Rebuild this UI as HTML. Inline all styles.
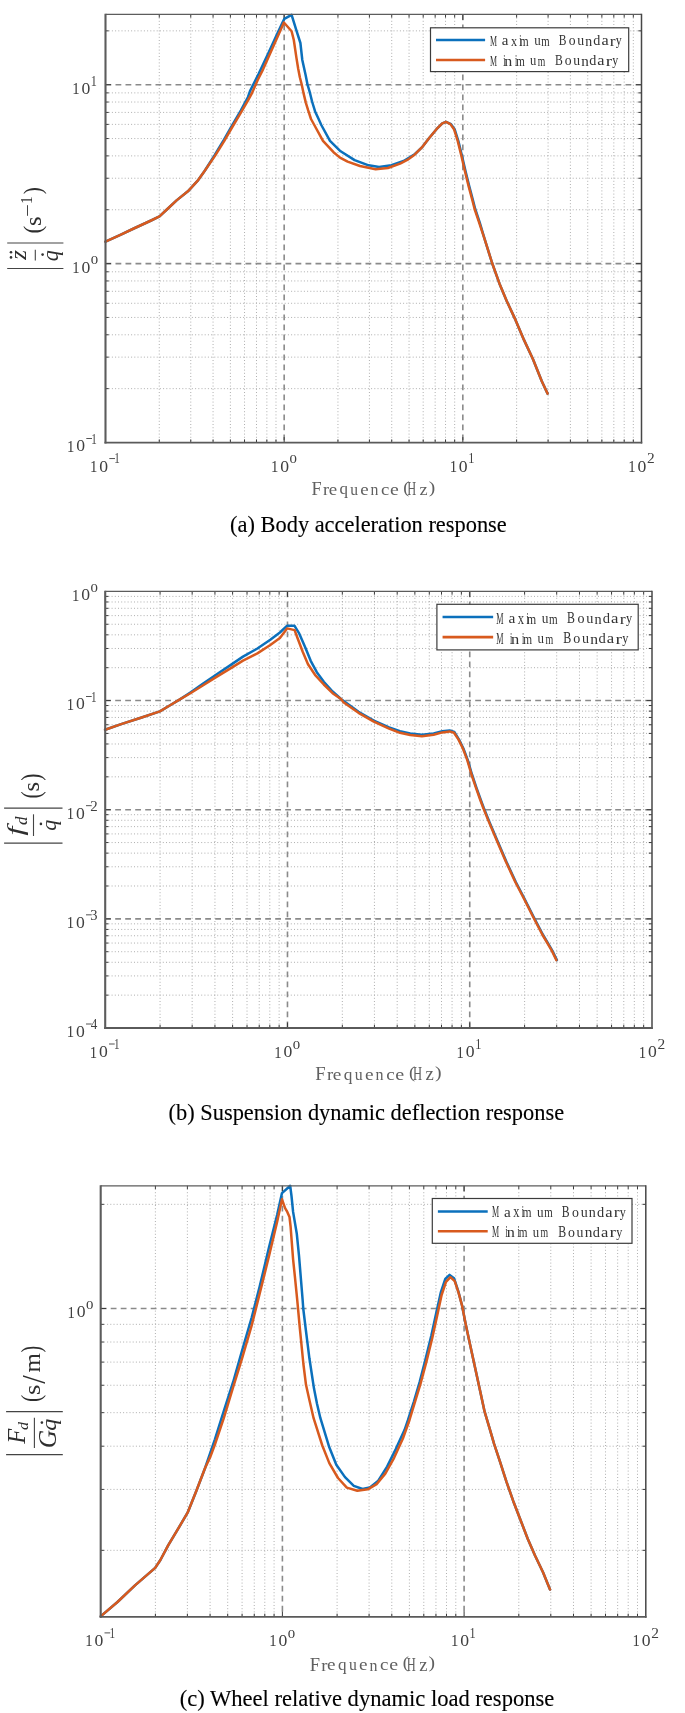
<!DOCTYPE html>
<html><head><meta charset="utf-8"><style>
html,body{margin:0;padding:0;background:#fff;width:685px;height:1713px;overflow:hidden}
svg{display:block;filter:blur(0.4px)}
</style></head><body>
<svg width="685" height="1713" viewBox="0 0 685 1713">
<style>
.mn{stroke:#a6a6a6;stroke-width:0.9;stroke-dasharray:1 2.2;fill:none}
.mj{stroke:#8a8a8a;stroke-width:1.6;stroke-dasharray:5.8 4.2;fill:none}
.tk{stroke:#3a3a3a;stroke-width:1;fill:none}
.box{fill:none;stroke:#3a3a3a;stroke-width:1.3}
.tl{font-family:"Liberation Serif",serif;font-size:16.5px;fill:#333}
.sup{font-size:11.5px}
.cap{font-family:"Liberation Serif",serif;font-size:22.4px;fill:#000;stroke:#000;stroke-width:0.12}
</style>
<rect width="685" height="1713" fill="#fff"/>
<path d="M159.28 14.4V442.6M190.75 14.4V442.6M213.07 14.4V442.6M230.38 14.4V442.6M244.53 14.4V442.6M256.49 14.4V442.6M266.85 14.4V442.6M275.99 14.4V442.6M337.95 14.4V442.6M369.41 14.4V442.6M391.73 14.4V442.6M409.05 14.4V442.6M423.20 14.4V442.6M435.16 14.4V442.6M445.52 14.4V442.6M454.66 14.4V442.6M516.62 14.4V442.6M548.08 14.4V442.6M570.40 14.4V442.6M587.72 14.4V442.6M601.86 14.4V442.6M613.82 14.4V442.6M624.19 14.4V442.6M633.32 14.4V442.6M105.5 388.65H641.5M105.5 357.14H641.5M105.5 334.79H641.5M105.5 317.45H641.5M105.5 303.29H641.5M105.5 291.31H641.5M105.5 280.94H641.5M105.5 271.79H641.5M105.5 209.75H641.5M105.5 178.24H641.5M105.5 155.89H641.5M105.5 138.55H641.5M105.5 124.39H641.5M105.5 112.41H641.5M105.5 102.04H641.5M105.5 92.89H641.5M105.5 30.85H641.5" class="mn"/>
<path d="M284.17 14.4V442.6M462.83 14.4V442.6M105.5 263.60H641.5M105.5 84.70H641.5" class="mj"/>
<path d="M159.28 442.6v-3.2M159.28 14.4v3.2M190.75 442.6v-3.2M190.75 14.4v3.2M213.07 442.6v-3.2M213.07 14.4v3.2M230.38 442.6v-3.2M230.38 14.4v3.2M244.53 442.6v-3.2M244.53 14.4v3.2M256.49 442.6v-3.2M256.49 14.4v3.2M266.85 442.6v-3.2M266.85 14.4v3.2M275.99 442.6v-3.2M275.99 14.4v3.2M284.17 442.6v-5.5M284.17 14.4v5.5M337.95 442.6v-3.2M337.95 14.4v3.2M369.41 442.6v-3.2M369.41 14.4v3.2M391.73 442.6v-3.2M391.73 14.4v3.2M409.05 442.6v-3.2M409.05 14.4v3.2M423.20 442.6v-3.2M423.20 14.4v3.2M435.16 442.6v-3.2M435.16 14.4v3.2M445.52 442.6v-3.2M445.52 14.4v3.2M454.66 442.6v-3.2M454.66 14.4v3.2M462.83 442.6v-5.5M462.83 14.4v5.5M516.62 442.6v-3.2M516.62 14.4v3.2M548.08 442.6v-3.2M548.08 14.4v3.2M570.40 442.6v-3.2M570.40 14.4v3.2M587.72 442.6v-3.2M587.72 14.4v3.2M601.86 442.6v-3.2M601.86 14.4v3.2M613.82 442.6v-3.2M613.82 14.4v3.2M624.19 442.6v-3.2M624.19 14.4v3.2M633.32 442.6v-3.2M633.32 14.4v3.2M105.5 388.65h3.2M641.5 388.65h-3.2M105.5 357.14h3.2M641.5 357.14h-3.2M105.5 334.79h3.2M641.5 334.79h-3.2M105.5 317.45h3.2M641.5 317.45h-3.2M105.5 303.29h3.2M641.5 303.29h-3.2M105.5 291.31h3.2M641.5 291.31h-3.2M105.5 280.94h3.2M641.5 280.94h-3.2M105.5 271.79h3.2M641.5 271.79h-3.2M105.5 263.60h5.5M641.5 263.60h-5.5M105.5 209.75h3.2M641.5 209.75h-3.2M105.5 178.24h3.2M641.5 178.24h-3.2M105.5 155.89h3.2M641.5 155.89h-3.2M105.5 138.55h3.2M641.5 138.55h-3.2M105.5 124.39h3.2M641.5 124.39h-3.2M105.5 112.41h3.2M641.5 112.41h-3.2M105.5 102.04h3.2M641.5 102.04h-3.2M105.5 92.89h3.2M641.5 92.89h-3.2M105.5 84.70h5.5M641.5 84.70h-5.5M105.5 30.85h3.2M641.5 30.85h-3.2" class="tk"/>
<path d="M105.5 241.7 L120.4 234.8 L132.7 229.0 L151.1 220.5 L159.5 216.4 L167.4 209.0 L176.6 200.4 L187.9 191.3 L197.5 180.9 L204.6 171.0 L214.8 155.0 L224.0 139.6 L231.7 126.0 L240.9 110.4 L248.0 97.0 L250.0 91.1 L258.8 73.6 L269.0 51.7 L277.7 32.7 L284.3 18.9 L291.6 14.9 L296.7 31.3 L300.4 43.0 L302.3 60.0 L305.5 74.6 L307.5 84.5 L309.9 92.7 L312.2 102.0 L315.1 111.4 L318.6 119.0 L321.3 125.0 L330.0 140.8 L340.6 151.3 L354.6 160.1 L368.6 165.3 L379.1 167.1 L391.4 165.3 L403.6 161.0 L415.0 154.0 L421.9 147.4 L429.2 138.0 L436.5 129.2 L442.3 123.4 L446.0 121.9 L451.0 124.1 L454.6 129.2 L458.3 140.9 L461.9 155.5 L465.6 171.5 L469.2 186.1 L472.9 200.0 L475.2 209.0 L479.6 222.1 L484.8 239.6 L492.1 263.0 L499.4 283.4 L506.7 301.0 L515.5 319.9 L524.2 340.4 L533.0 359.3 L541.8 381.2 L547.6 393.6" fill="none" stroke="#0B70BC" stroke-width="2.5" stroke-linejoin="round" stroke-linecap="round"/>
<path d="M105.5 241.7 L120.4 234.8 L132.7 229.0 L151.1 220.5 L159.5 216.4 L167.4 209.0 L176.6 200.4 L187.9 191.3 L197.5 180.9 L204.6 171.0 L214.8 156.1 L224.0 141.3 L231.7 128.0 L240.9 112.7 L248.0 100.4 L252.1 92.8 L257.7 80.0 L262.3 71.0 L269.0 56.1 L277.7 36.4 L283.9 22.5 L291.6 31.3 L293.8 40.0 L296.4 57.6 L298.2 68.8 L299.9 77.5 L301.7 84.5 L303.7 93.9 L305.8 102.6 L308.1 110.2 L311.0 119.0 L314.3 125.0 L323.0 140.8 L333.5 152.2 L340.0 157.6 L347.6 161.6 L360.0 166.0 L375.6 169.2 L387.9 168.0 L400.1 163.6 L407.3 159.9 L414.6 154.7 L421.9 147.4 L429.2 138.0 L436.5 129.2 L442.3 123.4 L446.0 121.9 L450.4 124.1 L454.0 129.2 L457.7 140.9 L461.3 155.5 L465.0 171.5 L468.6 186.1 L472.3 200.0 L474.6 209.0 L479.0 222.1 L484.8 239.6 L492.1 263.0 L499.4 283.4 L506.7 301.0 L515.5 319.9 L524.2 340.4 L533.0 359.3 L541.8 381.2 L547.6 393.6" fill="none" stroke="#D85A1E" stroke-width="2.5" stroke-linejoin="round" stroke-linecap="round"/>
<path d="M105.5 14.4H641.5" stroke="#5c5c5c" stroke-width="1.2" fill="none"/>
<path d="M641.5 13.8V443.5" stroke="#474747" stroke-width="1.5" fill="none"/>
<path d="M104.5 442.6H642.25" stroke="#5a5a5a" stroke-width="1.8" fill="none"/>
<path d="M105.5 13.8V443.5" stroke="#5c5c5c" stroke-width="2.1" fill="none"/>
<rect x="430.50" y="27.80" width="198.20" height="43.80" fill="#fff" stroke="#3c3c3c" stroke-width="1.2"/>
<line x1="436.00" y1="40.0" x2="485.10" y2="40.0" stroke="#0B70BC" stroke-width="2.6"/>
<line x1="436.00" y1="60.0" x2="485.10" y2="60.0" stroke="#D85A1E" stroke-width="2.6"/>
<text transform="matrix(0.07928 0 0 0.15573 489.88 45.50)" style="font-family:'Liberation Serif',serif;font-size:100px" fill="#333">M</text>
<text transform="matrix(0.14937 0 0 0.14792 501.78 45.35)" style="font-family:'Liberation Serif',serif;font-size:100px" fill="#333">a</text>
<text transform="matrix(0.12292 0 0 0.15435 510.91 45.50)" style="font-family:'Liberation Serif',serif;font-size:100px" fill="#333">x</text>
<text transform="matrix(0.07917 0 0 0.15698 519.24 45.50)" style="font-family:'Liberation Serif',serif;font-size:100px" fill="#333">i</text>
<text transform="matrix(0.11448 0 0 0.15106 519.87 45.50)" style="font-family:'Liberation Serif',serif;font-size:100px" fill="#333">m</text>
<text transform="matrix(0.12979 0 0 0.15106 534.24 45.35)" style="font-family:'Liberation Serif',serif;font-size:100px" fill="#333">u</text>
<text transform="matrix(0.10774 0 0 0.15106 541.28 45.50)" style="font-family:'Liberation Serif',serif;font-size:100px" fill="#333">m</text>
<text transform="matrix(0.11525 0 0 0.15513 558.68 45.46)" style="font-family:'Liberation Serif',serif;font-size:100px" fill="#333">B</text>
<text transform="matrix(0.13647 0 0 0.14792 568.79 45.35)" style="font-family:'Liberation Serif',serif;font-size:100px" fill="#333">o</text>
<text transform="matrix(0.13830 0 0 0.15106 577.23 45.35)" style="font-family:'Liberation Serif',serif;font-size:100px" fill="#333">u</text>
<text transform="matrix(0.13838 0 0 0.15106 585.29 45.50)" style="font-family:'Liberation Serif',serif;font-size:100px" fill="#333">n</text>
<text transform="matrix(0.14144 0 0 0.14752 593.30 45.35)" style="font-family:'Liberation Serif',serif;font-size:100px" fill="#333">d</text>
<text transform="matrix(0.16203 0 0 0.14792 601.43 45.35)" style="font-family:'Liberation Serif',serif;font-size:100px" fill="#333">a</text>
<text transform="matrix(0.17377 0 0 0.15106 609.75 45.50)" style="font-family:'Liberation Serif',serif;font-size:100px" fill="#333">r</text>
<text transform="matrix(0.11959 0 0 0.14667 615.85 45.15)" style="font-family:'Liberation Serif',serif;font-size:100px" fill="#333">y</text>
<text transform="matrix(0.07928 0 0 0.15573 489.88 65.50)" style="font-family:'Liberation Serif',serif;font-size:100px" fill="#333">M</text>
<text transform="matrix(0.07917 0 0 0.15698 503.24 65.50)" style="font-family:'Liberation Serif',serif;font-size:100px" fill="#333">i</text>
<text transform="matrix(0.16000 0 0 0.15106 504.34 65.50)" style="font-family:'Liberation Serif',serif;font-size:100px" fill="#333">n</text>
<text transform="matrix(0.07917 0 0 0.15698 514.94 65.50)" style="font-family:'Liberation Serif',serif;font-size:100px" fill="#333">i</text>
<text transform="matrix(0.11044 0 0 0.15106 516.18 65.50)" style="font-family:'Liberation Serif',serif;font-size:100px" fill="#333">m</text>
<text transform="matrix(0.12553 0 0 0.15106 529.94 65.35)" style="font-family:'Liberation Serif',serif;font-size:100px" fill="#333">u</text>
<text transform="matrix(0.09697 0 0 0.15106 537.81 65.50)" style="font-family:'Liberation Serif',serif;font-size:100px" fill="#333">m</text>
<text transform="matrix(0.11695 0 0 0.15513 555.08 65.46)" style="font-family:'Liberation Serif',serif;font-size:100px" fill="#333">B</text>
<text transform="matrix(0.13647 0 0 0.14792 564.69 65.35)" style="font-family:'Liberation Serif',serif;font-size:100px" fill="#333">o</text>
<text transform="matrix(0.13617 0 0 0.15106 573.23 65.35)" style="font-family:'Liberation Serif',serif;font-size:100px" fill="#333">u</text>
<text transform="matrix(0.15135 0 0 0.15106 581.16 65.50)" style="font-family:'Liberation Serif',serif;font-size:100px" fill="#333">n</text>
<text transform="matrix(0.14144 0 0 0.14752 589.20 65.35)" style="font-family:'Liberation Serif',serif;font-size:100px" fill="#333">d</text>
<text transform="matrix(0.16203 0 0 0.14792 597.33 65.35)" style="font-family:'Liberation Serif',serif;font-size:100px" fill="#333">a</text>
<text transform="matrix(0.19016 0 0 0.15106 605.72 65.50)" style="font-family:'Liberation Serif',serif;font-size:100px" fill="#333">r</text>
<text transform="matrix(0.11959 0 0 0.14667 612.35 65.15)" style="font-family:'Liberation Serif',serif;font-size:100px" fill="#333">y</text>
<text transform="matrix(0.14752 0 0 0.17727 90.11 472.10)" style="font-family:'Liberation Serif',serif;font-size:100px" fill="#404040">1</text>
<text transform="matrix(0.17647 0 0 0.17333 99.34 471.93)" style="font-family:'Liberation Serif',serif;font-size:100px" fill="#404040">0</text>
<rect x="109.30" y="458.15" width="5.7" height="0.9" fill="#404040"/>
<text transform="matrix(0.11064 0 0 0.13788 114.23 463.40)" style="font-family:'Liberation Serif',serif;font-size:100px" fill="#404040">1</text>
<text transform="matrix(0.14752 0 0 0.17727 270.98 472.10)" style="font-family:'Liberation Serif',serif;font-size:100px" fill="#404040">1</text>
<text transform="matrix(0.17647 0 0 0.17333 280.20 471.93)" style="font-family:'Liberation Serif',serif;font-size:100px" fill="#404040">0</text>
<text transform="matrix(0.14824 0 0 0.13481 289.51 463.27)" style="font-family:'Liberation Serif',serif;font-size:100px" fill="#404040">0</text>
<text transform="matrix(0.14752 0 0 0.17727 449.64 472.10)" style="font-family:'Liberation Serif',serif;font-size:100px" fill="#404040">1</text>
<text transform="matrix(0.17647 0 0 0.17333 458.87 471.93)" style="font-family:'Liberation Serif',serif;font-size:100px" fill="#404040">0</text>
<text transform="matrix(0.12199 0 0 0.13788 468.27 463.40)" style="font-family:'Liberation Serif',serif;font-size:100px" fill="#404040">1</text>
<text transform="matrix(0.14752 0 0 0.17727 628.31 472.10)" style="font-family:'Liberation Serif',serif;font-size:100px" fill="#404040">1</text>
<text transform="matrix(0.17647 0 0 0.17333 637.54 471.93)" style="font-family:'Liberation Serif',serif;font-size:100px" fill="#404040">0</text>
<text transform="matrix(0.15404 0 0 0.13736 646.95 463.40)" style="font-family:'Liberation Serif',serif;font-size:100px" fill="#404040">2</text>
<text transform="matrix(0.14752 0 0 0.17424 67.11 451.60)" style="font-family:'Liberation Serif',serif;font-size:100px" fill="#404040">1</text>
<text transform="matrix(0.17647 0 0 0.17037 76.34 451.43)" style="font-family:'Liberation Serif',serif;font-size:100px" fill="#404040">0</text>
<rect x="86.30" y="438.05" width="5.7" height="0.9" fill="#404040"/>
<text transform="matrix(0.11064 0 0 0.13788 91.23 443.50)" style="font-family:'Liberation Serif',serif;font-size:100px" fill="#404040">1</text>
<text transform="matrix(0.14752 0 0 0.17424 72.21 272.70)" style="font-family:'Liberation Serif',serif;font-size:100px" fill="#404040">1</text>
<text transform="matrix(0.17647 0 0 0.17037 81.44 272.53)" style="font-family:'Liberation Serif',serif;font-size:100px" fill="#404040">0</text>
<text transform="matrix(0.14824 0 0 0.13481 90.74 264.47)" style="font-family:'Liberation Serif',serif;font-size:100px" fill="#404040">0</text>
<text transform="matrix(0.14752 0 0 0.17424 72.21 93.80)" style="font-family:'Liberation Serif',serif;font-size:100px" fill="#404040">1</text>
<text transform="matrix(0.17647 0 0 0.17037 81.44 93.63)" style="font-family:'Liberation Serif',serif;font-size:100px" fill="#404040">0</text>
<text transform="matrix(0.12199 0 0 0.13788 90.83 85.70)" style="font-family:'Liberation Serif',serif;font-size:100px" fill="#404040">1</text>
<text transform="matrix(0.18274 0 0 0.19237 311.50 494.90)" style="font-family:'Liberation Serif',serif;font-size:100px" fill="#606060">F</text>
<text transform="matrix(0.18361 0 0 0.17234 322.93 494.90)" style="font-family:'Liberation Serif',serif;font-size:100px" fill="#606060">r</text>
<text transform="matrix(0.18919 0 0 0.16875 328.64 494.73)" style="font-family:'Liberation Serif',serif;font-size:100px" fill="#606060">e</text>
<text transform="matrix(0.16983 0 0 0.15740 339.41 494.36)" style="font-family:'Liberation Serif',serif;font-size:100px" fill="#606060">q</text>
<text transform="matrix(0.15532 0 0 0.17234 350.31 494.73)" style="font-family:'Liberation Serif',serif;font-size:100px" fill="#606060">u</text>
<text transform="matrix(0.18919 0 0 0.16875 360.24 494.73)" style="font-family:'Liberation Serif',serif;font-size:100px" fill="#606060">e</text>
<text transform="matrix(0.15784 0 0 0.17234 370.54 494.90)" style="font-family:'Liberation Serif',serif;font-size:100px" fill="#606060">n</text>
<text transform="matrix(0.18667 0 0 0.16875 381.00 494.73)" style="font-family:'Liberation Serif',serif;font-size:100px" fill="#606060">c</text>
<text transform="matrix(0.19730 0 0 0.16875 390.01 494.73)" style="font-family:'Liberation Serif',serif;font-size:100px" fill="#606060">e</text>
<text transform="matrix(0.18252 0 0 0.17300 403.32 492.72)" style="font-family:'Liberation Serif',serif;font-size:100px" fill="#606060">(</text>
<text transform="matrix(0.12331 0 0 0.19237 407.26 494.90)" style="font-family:'Liberation Serif',serif;font-size:100px" fill="#606060">H</text>
<text transform="matrix(0.18323 0 0 0.17609 419.60 494.90)" style="font-family:'Liberation Serif',serif;font-size:100px" fill="#606060">z</text>
<text transform="matrix(0.19417 0 0 0.17300 428.87 492.72)" style="font-family:'Liberation Serif',serif;font-size:100px" fill="#606060">)</text>
<text x="368.45" y="531.9" class="cap" text-anchor="middle">(a) Body acceleration response</text>
<line x1="7.2" y1="243.0" x2="63.4" y2="243.0" stroke="#444" stroke-width="1.2"/>
<line x1="7.2" y1="268.5" x2="63.4" y2="268.5" stroke="#444" stroke-width="1.2"/>
<line x1="35.3" y1="249.8" x2="35.3" y2="260.5" stroke="#444" stroke-width="1.1"/>
<text transform="matrix(0 -0.25032 0.23478 0 26.10 259.69)" style="font-family:'Liberation Serif',serif;font-style:italic;font-size:100px" fill="#2e2e2e">z</text>
<circle cx="11.0" cy="252.3" r="1.3" fill="#333"/>
<circle cx="11.0" cy="257.4" r="1.3" fill="#333"/>
<text transform="matrix(0 -0.21798 0.22418 0 57.54 261.21)" style="font-family:'Liberation Serif',serif;font-style:italic;font-size:100px" fill="#2e2e2e">q</text>
<circle cx="42.6" cy="254.6" r="1.3" fill="#333"/>
<text transform="matrix(0 -0.22913 0.26226 0 41.33 233.57)" style="font-family:'Liberation Serif',serif;font-size:100px" fill="#2e2e2e">(</text>
<text transform="matrix(0 -0.24640 0.22083 0 40.78 225.89)" style="font-family:'Liberation Serif',serif;font-size:100px" fill="#2e2e2e">s</text>
<line x1="27.5" y1="205.2" x2="27.5" y2="215.8" stroke="#2e2e2e" stroke-width="0.9"/>
<text transform="matrix(0 -0.15319 0.16515 0 31.90 203.94)" style="font-family:'Liberation Serif',serif;font-size:100px" fill="#2e2e2e">1</text>
<text transform="matrix(0 -0.21359 0.26226 0 41.33 194.19)" style="font-family:'Liberation Serif',serif;font-size:100px" fill="#2e2e2e">)</text>
<path d="M160.07 591.4V1028.0M192.16 591.4V1028.0M214.94 591.4V1028.0M232.60 591.4V1028.0M247.03 591.4V1028.0M259.23 591.4V1028.0M269.80 591.4V1028.0M279.13 591.4V1028.0M342.33 591.4V1028.0M374.43 591.4V1028.0M397.20 591.4V1028.0M414.87 591.4V1028.0M429.30 591.4V1028.0M441.50 591.4V1028.0M452.07 591.4V1028.0M461.39 591.4V1028.0M524.60 591.4V1028.0M556.70 591.4V1028.0M579.47 591.4V1028.0M597.13 591.4V1028.0M611.56 591.4V1028.0M623.77 591.4V1028.0M634.34 591.4V1028.0M643.66 591.4V1028.0M105.2 995.14H652.0M105.2 975.92H652.0M105.2 962.29H652.0M105.2 951.71H652.0M105.2 943.06H652.0M105.2 935.76H652.0M105.2 929.43H652.0M105.2 923.84H652.0M105.2 885.99H652.0M105.2 866.77H652.0M105.2 853.14H652.0M105.2 842.56H652.0M105.2 833.91H652.0M105.2 826.61H652.0M105.2 820.28H652.0M105.2 814.69H652.0M105.2 776.84H652.0M105.2 757.62H652.0M105.2 743.99H652.0M105.2 733.41H652.0M105.2 724.76H652.0M105.2 717.46H652.0M105.2 711.13H652.0M105.2 705.54H652.0M105.2 667.69H652.0M105.2 648.47H652.0M105.2 634.84H652.0M105.2 624.26H652.0M105.2 615.61H652.0M105.2 608.31H652.0M105.2 601.98H652.0M105.2 596.39H652.0" class="mn"/>
<path d="M287.47 591.4V1028.0M469.73 591.4V1028.0M105.2 918.85H652.0M105.2 809.70H652.0M105.2 700.55H652.0" class="mj"/>
<path d="M160.07 1028.0v-3.2M160.07 591.4v3.2M192.16 1028.0v-3.2M192.16 591.4v3.2M214.94 1028.0v-3.2M214.94 591.4v3.2M232.60 1028.0v-3.2M232.60 591.4v3.2M247.03 1028.0v-3.2M247.03 591.4v3.2M259.23 1028.0v-3.2M259.23 591.4v3.2M269.80 1028.0v-3.2M269.80 591.4v3.2M279.13 1028.0v-3.2M279.13 591.4v3.2M287.47 1028.0v-5.5M287.47 591.4v5.5M342.33 1028.0v-3.2M342.33 591.4v3.2M374.43 1028.0v-3.2M374.43 591.4v3.2M397.20 1028.0v-3.2M397.20 591.4v3.2M414.87 1028.0v-3.2M414.87 591.4v3.2M429.30 1028.0v-3.2M429.30 591.4v3.2M441.50 1028.0v-3.2M441.50 591.4v3.2M452.07 1028.0v-3.2M452.07 591.4v3.2M461.39 1028.0v-3.2M461.39 591.4v3.2M469.73 1028.0v-5.5M469.73 591.4v5.5M524.60 1028.0v-3.2M524.60 591.4v3.2M556.70 1028.0v-3.2M556.70 591.4v3.2M579.47 1028.0v-3.2M579.47 591.4v3.2M597.13 1028.0v-3.2M597.13 591.4v3.2M611.56 1028.0v-3.2M611.56 591.4v3.2M623.77 1028.0v-3.2M623.77 591.4v3.2M634.34 1028.0v-3.2M634.34 591.4v3.2M643.66 1028.0v-3.2M643.66 591.4v3.2M105.2 995.14h3.2M652.0 995.14h-3.2M105.2 975.92h3.2M652.0 975.92h-3.2M105.2 962.29h3.2M652.0 962.29h-3.2M105.2 951.71h3.2M652.0 951.71h-3.2M105.2 943.06h3.2M652.0 943.06h-3.2M105.2 935.76h3.2M652.0 935.76h-3.2M105.2 929.43h3.2M652.0 929.43h-3.2M105.2 923.84h3.2M652.0 923.84h-3.2M105.2 918.85h5.5M652.0 918.85h-5.5M105.2 885.99h3.2M652.0 885.99h-3.2M105.2 866.77h3.2M652.0 866.77h-3.2M105.2 853.14h3.2M652.0 853.14h-3.2M105.2 842.56h3.2M652.0 842.56h-3.2M105.2 833.91h3.2M652.0 833.91h-3.2M105.2 826.61h3.2M652.0 826.61h-3.2M105.2 820.28h3.2M652.0 820.28h-3.2M105.2 814.69h3.2M652.0 814.69h-3.2M105.2 809.70h5.5M652.0 809.70h-5.5M105.2 776.84h3.2M652.0 776.84h-3.2M105.2 757.62h3.2M652.0 757.62h-3.2M105.2 743.99h3.2M652.0 743.99h-3.2M105.2 733.41h3.2M652.0 733.41h-3.2M105.2 724.76h3.2M652.0 724.76h-3.2M105.2 717.46h3.2M652.0 717.46h-3.2M105.2 711.13h3.2M652.0 711.13h-3.2M105.2 705.54h3.2M652.0 705.54h-3.2M105.2 700.55h5.5M652.0 700.55h-5.5M105.2 667.69h3.2M652.0 667.69h-3.2M105.2 648.47h3.2M652.0 648.47h-3.2M105.2 634.84h3.2M652.0 634.84h-3.2M105.2 624.26h3.2M652.0 624.26h-3.2M105.2 615.61h3.2M652.0 615.61h-3.2M105.2 608.31h3.2M652.0 608.31h-3.2M105.2 601.98h3.2M652.0 601.98h-3.2M105.2 596.39h3.2M652.0 596.39h-3.2" class="tk"/>
<path d="M105.1 729.8 L121.9 723.9 L140.9 717.7 L159.9 711.4 L170.1 705.3 L180.3 699.1 L190.0 692.7 L202.8 683.9 L215.7 675.0 L230.1 665.4 L243.0 656.6 L257.4 648.5 L270.3 639.7 L279.9 632.5 L287.2 625.7 L294.4 625.7 L299.3 633.7 L305.4 647.7 L310.7 660.8 L316.8 672.2 L323.8 681.8 L332.6 691.5 L341.3 699.3 L358.5 711.8 L373.8 720.6 L389.1 727.4 L400.0 731.2 L410.2 733.4 L421.9 734.7 L433.6 733.4 L442.3 731.2 L449.6 730.4 L454.3 732.0 L458.9 739.4 L463.3 748.2 L467.7 759.9 L472.0 774.5 L476.4 787.6 L480.8 800.0 L483.6 807.5 L489.5 822.1 L497.5 841.1 L506.3 861.5 L515.8 882.0 L524.5 898.8 L533.3 916.3 L542.8 934.5 L552.3 950.6 L556.9 960.1" fill="none" stroke="#0B70BC" stroke-width="2.5" stroke-linejoin="round" stroke-linecap="round"/>
<path d="M105.1 729.8 L121.9 723.9 L140.9 717.7 L159.9 711.4 L170.1 705.3 L180.3 699.1 L190.0 693.5 L202.8 685.5 L215.7 677.4 L230.1 668.6 L243.0 660.6 L257.4 653.4 L270.3 645.0 L279.9 638.1 L287.1 628.4 L294.6 630.1 L297.5 638.0 L302.8 652.0 L308.0 664.3 L315.0 674.8 L323.8 684.5 L332.6 693.2 L341.3 699.3 L343.1 701.9 L358.5 712.8 L373.8 721.6 L389.1 728.6 L400.0 732.8 L410.2 735.0 L421.9 736.2 L433.6 734.7 L442.3 732.4 L449.6 731.4 L454.0 732.8 L458.4 739.4 L462.8 748.2 L467.2 759.9 L471.5 774.5 L475.9 787.6 L480.3 800.0 L483.1 807.5 L489.0 822.1 L497.0 841.1 L505.8 861.5 L515.3 882.0 L524.0 898.8 L532.8 916.3 L542.3 934.5 L551.8 950.6 L556.4 960.1" fill="none" stroke="#D85A1E" stroke-width="2.5" stroke-linejoin="round" stroke-linecap="round"/>
<path d="M105.2 591.4H652.0" stroke="#5c5c5c" stroke-width="1.2" fill="none"/>
<path d="M652.0 590.8V1028.9" stroke="#474747" stroke-width="1.5" fill="none"/>
<path d="M104.2 1028.0H652.75" stroke="#5a5a5a" stroke-width="1.8" fill="none"/>
<path d="M105.2 590.8V1028.9" stroke="#5c5c5c" stroke-width="2.1" fill="none"/>
<rect x="436.90" y="604.30" width="201.30" height="45.60" fill="#fff" stroke="#3c3c3c" stroke-width="1.2"/>
<line x1="442.56" y1="617.0" x2="493.14" y2="617.0" stroke="#0B70BC" stroke-width="2.6"/>
<line x1="442.56" y1="637.1" x2="493.14" y2="637.1" stroke="#D85A1E" stroke-width="2.6"/>
<text transform="matrix(0.08166 0 0 0.16040 496.18 623.50)" style="font-family:'Liberation Serif',serif;font-size:100px" fill="#333">M</text>
<text transform="matrix(0.15385 0 0 0.15235 508.43 623.35)" style="font-family:'Liberation Serif',serif;font-size:100px" fill="#333">a</text>
<text transform="matrix(0.12660 0 0 0.15898 517.83 623.50)" style="font-family:'Liberation Serif',serif;font-size:100px" fill="#333">x</text>
<text transform="matrix(0.08154 0 0 0.16169 526.42 623.50)" style="font-family:'Liberation Serif',serif;font-size:100px" fill="#333">i</text>
<text transform="matrix(0.11791 0 0 0.15560 527.06 623.50)" style="font-family:'Liberation Serif',serif;font-size:100px" fill="#333">m</text>
<text transform="matrix(0.13368 0 0 0.15560 541.86 623.34)" style="font-family:'Liberation Serif',serif;font-size:100px" fill="#333">u</text>
<text transform="matrix(0.11098 0 0 0.15560 549.12 623.50)" style="font-family:'Liberation Serif',serif;font-size:100px" fill="#333">m</text>
<text transform="matrix(0.11871 0 0 0.15979 567.04 623.46)" style="font-family:'Liberation Serif',serif;font-size:100px" fill="#333">B</text>
<text transform="matrix(0.14056 0 0 0.15235 577.45 623.35)" style="font-family:'Liberation Serif',serif;font-size:100px" fill="#333">o</text>
<text transform="matrix(0.14245 0 0 0.15560 586.14 623.34)" style="font-family:'Liberation Serif',serif;font-size:100px" fill="#333">u</text>
<text transform="matrix(0.14253 0 0 0.15560 594.44 623.50)" style="font-family:'Liberation Serif',serif;font-size:100px" fill="#333">n</text>
<text transform="matrix(0.14568 0 0 0.15194 602.70 623.35)" style="font-family:'Liberation Serif',serif;font-size:100px" fill="#333">d</text>
<text transform="matrix(0.16689 0 0 0.15235 611.07 623.35)" style="font-family:'Liberation Serif',serif;font-size:100px" fill="#333">a</text>
<text transform="matrix(0.17898 0 0 0.15560 619.64 623.50)" style="font-family:'Liberation Serif',serif;font-size:100px" fill="#333">r</text>
<text transform="matrix(0.12318 0 0 0.15107 625.92 623.14)" style="font-family:'Liberation Serif',serif;font-size:100px" fill="#333">y</text>
<text transform="matrix(0.08166 0 0 0.16040 496.18 643.50)" style="font-family:'Liberation Serif',serif;font-size:100px" fill="#333">M</text>
<text transform="matrix(0.08154 0 0 0.16169 509.94 643.50)" style="font-family:'Liberation Serif',serif;font-size:100px" fill="#333">i</text>
<text transform="matrix(0.16480 0 0 0.15560 511.07 643.50)" style="font-family:'Liberation Serif',serif;font-size:100px" fill="#333">n</text>
<text transform="matrix(0.08154 0 0 0.16169 521.99 643.50)" style="font-family:'Liberation Serif',serif;font-size:100px" fill="#333">i</text>
<text transform="matrix(0.11375 0 0 0.15560 523.26 643.50)" style="font-family:'Liberation Serif',serif;font-size:100px" fill="#333">m</text>
<text transform="matrix(0.12930 0 0 0.15560 537.44 643.34)" style="font-family:'Liberation Serif',serif;font-size:100px" fill="#333">u</text>
<text transform="matrix(0.09988 0 0 0.15560 545.54 643.50)" style="font-family:'Liberation Serif',serif;font-size:100px" fill="#333">m</text>
<text transform="matrix(0.12046 0 0 0.15979 563.33 643.46)" style="font-family:'Liberation Serif',serif;font-size:100px" fill="#333">B</text>
<text transform="matrix(0.14056 0 0 0.15235 573.23 643.35)" style="font-family:'Liberation Serif',serif;font-size:100px" fill="#333">o</text>
<text transform="matrix(0.14026 0 0 0.15560 582.02 643.34)" style="font-family:'Liberation Serif',serif;font-size:100px" fill="#333">u</text>
<text transform="matrix(0.15589 0 0 0.15560 590.19 643.50)" style="font-family:'Liberation Serif',serif;font-size:100px" fill="#333">n</text>
<text transform="matrix(0.14568 0 0 0.15194 598.48 643.35)" style="font-family:'Liberation Serif',serif;font-size:100px" fill="#333">d</text>
<text transform="matrix(0.16689 0 0 0.15235 606.85 643.35)" style="font-family:'Liberation Serif',serif;font-size:100px" fill="#333">a</text>
<text transform="matrix(0.19587 0 0 0.15560 615.49 643.50)" style="font-family:'Liberation Serif',serif;font-size:100px" fill="#333">r</text>
<text transform="matrix(0.12318 0 0 0.15107 622.32 643.14)" style="font-family:'Liberation Serif',serif;font-size:100px" fill="#333">y</text>
<text transform="matrix(0.14752 0 0 0.17727 89.81 1057.50)" style="font-family:'Liberation Serif',serif;font-size:100px" fill="#404040">1</text>
<text transform="matrix(0.17647 0 0 0.17333 99.04 1057.33)" style="font-family:'Liberation Serif',serif;font-size:100px" fill="#404040">0</text>
<rect x="109.00" y="1043.55" width="5.7" height="0.9" fill="#404040"/>
<text transform="matrix(0.11064 0 0 0.13788 113.93 1048.80)" style="font-family:'Liberation Serif',serif;font-size:100px" fill="#404040">1</text>
<text transform="matrix(0.14752 0 0 0.17727 274.28 1057.50)" style="font-family:'Liberation Serif',serif;font-size:100px" fill="#404040">1</text>
<text transform="matrix(0.17647 0 0 0.17333 283.50 1057.33)" style="font-family:'Liberation Serif',serif;font-size:100px" fill="#404040">0</text>
<text transform="matrix(0.14824 0 0 0.13481 292.81 1048.67)" style="font-family:'Liberation Serif',serif;font-size:100px" fill="#404040">0</text>
<text transform="matrix(0.14752 0 0 0.17727 456.54 1057.50)" style="font-family:'Liberation Serif',serif;font-size:100px" fill="#404040">1</text>
<text transform="matrix(0.17647 0 0 0.17333 465.77 1057.33)" style="font-family:'Liberation Serif',serif;font-size:100px" fill="#404040">0</text>
<text transform="matrix(0.12199 0 0 0.13788 475.17 1048.80)" style="font-family:'Liberation Serif',serif;font-size:100px" fill="#404040">1</text>
<text transform="matrix(0.14752 0 0 0.17727 638.81 1057.50)" style="font-family:'Liberation Serif',serif;font-size:100px" fill="#404040">1</text>
<text transform="matrix(0.17647 0 0 0.17333 648.04 1057.33)" style="font-family:'Liberation Serif',serif;font-size:100px" fill="#404040">0</text>
<text transform="matrix(0.15404 0 0 0.13736 657.45 1048.80)" style="font-family:'Liberation Serif',serif;font-size:100px" fill="#404040">2</text>
<text transform="matrix(0.14752 0 0 0.17424 71.91 600.50)" style="font-family:'Liberation Serif',serif;font-size:100px" fill="#404040">1</text>
<text transform="matrix(0.17647 0 0 0.17037 81.14 600.33)" style="font-family:'Liberation Serif',serif;font-size:100px" fill="#404040">0</text>
<text transform="matrix(0.14824 0 0 0.13481 90.44 592.27)" style="font-family:'Liberation Serif',serif;font-size:100px" fill="#404040">0</text>
<text transform="matrix(0.14752 0 0 0.17424 66.81 709.65)" style="font-family:'Liberation Serif',serif;font-size:100px" fill="#404040">1</text>
<text transform="matrix(0.17647 0 0 0.17037 76.04 709.48)" style="font-family:'Liberation Serif',serif;font-size:100px" fill="#404040">0</text>
<rect x="86.00" y="696.10" width="5.7" height="0.9" fill="#404040"/>
<text transform="matrix(0.11064 0 0 0.13788 90.93 701.55)" style="font-family:'Liberation Serif',serif;font-size:100px" fill="#404040">1</text>
<text transform="matrix(0.14752 0 0 0.17424 66.81 818.80)" style="font-family:'Liberation Serif',serif;font-size:100px" fill="#404040">1</text>
<text transform="matrix(0.17647 0 0 0.17037 76.04 818.63)" style="font-family:'Liberation Serif',serif;font-size:100px" fill="#404040">0</text>
<rect x="86.00" y="805.25" width="5.7" height="0.9" fill="#404040"/>
<text transform="matrix(0.14907 0 0 0.13736 90.37 810.70)" style="font-family:'Liberation Serif',serif;font-size:100px" fill="#404040">2</text>
<text transform="matrix(0.14752 0 0 0.17424 66.81 927.95)" style="font-family:'Liberation Serif',serif;font-size:100px" fill="#404040">1</text>
<text transform="matrix(0.17647 0 0 0.17037 76.04 927.78)" style="font-family:'Liberation Serif',serif;font-size:100px" fill="#404040">0</text>
<rect x="86.00" y="914.40" width="5.7" height="0.9" fill="#404040"/>
<text transform="matrix(0.14545 0 0 0.13532 90.31 919.71)" style="font-family:'Liberation Serif',serif;font-size:100px" fill="#404040">3</text>
<text transform="matrix(0.14752 0 0 0.17424 66.81 1037.10)" style="font-family:'Liberation Serif',serif;font-size:100px" fill="#404040">1</text>
<text transform="matrix(0.17647 0 0 0.17037 76.04 1036.93)" style="font-family:'Liberation Serif',serif;font-size:100px" fill="#404040">0</text>
<rect x="86.00" y="1023.55" width="5.7" height="0.9" fill="#404040"/>
<text transform="matrix(0.13118 0 0 0.13840 90.74 1029.00)" style="font-family:'Liberation Serif',serif;font-size:100px" fill="#404040">4</text>
<text transform="matrix(0.18640 0 0 0.19621 315.27 1080.40)" style="font-family:'Liberation Serif',serif;font-size:100px" fill="#606060">F</text>
<text transform="matrix(0.18728 0 0 0.17579 326.94 1080.40)" style="font-family:'Liberation Serif',serif;font-size:100px" fill="#606060">r</text>
<text transform="matrix(0.19297 0 0 0.17212 332.76 1080.23)" style="font-family:'Liberation Serif',serif;font-size:100px" fill="#606060">e</text>
<text transform="matrix(0.17323 0 0 0.16055 343.74 1079.84)" style="font-family:'Liberation Serif',serif;font-size:100px" fill="#606060">q</text>
<text transform="matrix(0.15843 0 0 0.17579 354.86 1080.22)" style="font-family:'Liberation Serif',serif;font-size:100px" fill="#606060">u</text>
<text transform="matrix(0.19297 0 0 0.17212 364.99 1080.23)" style="font-family:'Liberation Serif',serif;font-size:100px" fill="#606060">e</text>
<text transform="matrix(0.16099 0 0 0.17579 375.50 1080.40)" style="font-family:'Liberation Serif',serif;font-size:100px" fill="#606060">n</text>
<text transform="matrix(0.19040 0 0 0.17212 386.16 1080.23)" style="font-family:'Liberation Serif',serif;font-size:100px" fill="#606060">c</text>
<text transform="matrix(0.20124 0 0 0.17212 395.36 1080.23)" style="font-family:'Liberation Serif',serif;font-size:100px" fill="#606060">e</text>
<text transform="matrix(0.18617 0 0 0.17646 408.93 1078.18)" style="font-family:'Liberation Serif',serif;font-size:100px" fill="#606060">(</text>
<text transform="matrix(0.12577 0 0 0.19621 412.95 1080.40)" style="font-family:'Liberation Serif',serif;font-size:100px" fill="#606060">H</text>
<text transform="matrix(0.18689 0 0 0.17961 425.53 1080.40)" style="font-family:'Liberation Serif',serif;font-size:100px" fill="#606060">z</text>
<text transform="matrix(0.19806 0 0 0.17646 434.99 1078.18)" style="font-family:'Liberation Serif',serif;font-size:100px" fill="#606060">)</text>
<text x="366.35" y="1119.8" class="cap" text-anchor="middle">(b) Suspension dynamic deflection response</text>
<line x1="4.1" y1="808.2" x2="62.5" y2="808.2" stroke="#444" stroke-width="1.2"/>
<line x1="4.1" y1="843.1" x2="62.5" y2="843.1" stroke="#444" stroke-width="1.2"/>
<line x1="33.5" y1="814.3" x2="33.5" y2="836.0" stroke="#444" stroke-width="1.1"/>
<text transform="matrix(0 -0.32157 0.22779 0 23.26 835.62)" style="font-family:'Liberation Serif',serif;font-style:italic;font-size:100px" fill="#2e2e2e">f</text>
<text transform="matrix(0 -0.17143 0.16738 0 26.93 825.01)" style="font-family:'Liberation Serif',serif;font-style:italic;font-size:100px" fill="#2e2e2e">d</text>
<text transform="matrix(0 -0.21798 0.20952 0 56.35 830.81)" style="font-family:'Liberation Serif',serif;font-style:italic;font-size:100px" fill="#2e2e2e">q</text>
<circle cx="40.9" cy="823.9" r="1.3" fill="#333"/>
<text transform="matrix(0 -0.21359 0.26446 0 39.88 798.41)" style="font-family:'Liberation Serif',serif;font-size:100px" fill="#2e2e2e">(</text>
<text transform="matrix(0 -0.24640 0.22292 0 39.08 791.39)" style="font-family:'Liberation Serif',serif;font-size:100px" fill="#2e2e2e">s</text>
<text transform="matrix(0 -0.21359 0.26446 0 39.88 780.69)" style="font-family:'Liberation Serif',serif;font-size:100px" fill="#2e2e2e">)</text>
<path d="M155.40 1185.8V1616.9M187.39 1185.8V1616.9M210.09 1185.8V1616.9M227.70 1185.8V1616.9M242.09 1185.8V1616.9M254.25 1185.8V1616.9M264.79 1185.8V1616.9M274.09 1185.8V1616.9M337.10 1185.8V1616.9M369.09 1185.8V1616.9M391.79 1185.8V1616.9M409.40 1185.8V1616.9M423.79 1185.8V1616.9M435.95 1185.8V1616.9M446.49 1185.8V1616.9M455.79 1185.8V1616.9M518.80 1185.8V1616.9M550.79 1185.8V1616.9M573.49 1185.8V1616.9M591.10 1185.8V1616.9M605.49 1185.8V1616.9M617.65 1185.8V1616.9M628.19 1185.8V1616.9M637.49 1185.8V1616.9M100.7 1550.34H645.8M100.7 1489.42H645.8M100.7 1446.19H645.8M100.7 1412.66H645.8M100.7 1385.26H645.8M100.7 1362.10H645.8M100.7 1342.03H645.8M100.7 1324.33H645.8M100.7 1204.34H645.8" class="mn"/>
<path d="M282.40 1185.8V1616.9M464.10 1185.8V1616.9M100.7 1308.50H645.8" class="mj"/>
<path d="M155.40 1616.9v-3.2M155.40 1185.8v3.2M187.39 1616.9v-3.2M187.39 1185.8v3.2M210.09 1616.9v-3.2M210.09 1185.8v3.2M227.70 1616.9v-3.2M227.70 1185.8v3.2M242.09 1616.9v-3.2M242.09 1185.8v3.2M254.25 1616.9v-3.2M254.25 1185.8v3.2M264.79 1616.9v-3.2M264.79 1185.8v3.2M274.09 1616.9v-3.2M274.09 1185.8v3.2M282.40 1616.9v-5.5M282.40 1185.8v5.5M337.10 1616.9v-3.2M337.10 1185.8v3.2M369.09 1616.9v-3.2M369.09 1185.8v3.2M391.79 1616.9v-3.2M391.79 1185.8v3.2M409.40 1616.9v-3.2M409.40 1185.8v3.2M423.79 1616.9v-3.2M423.79 1185.8v3.2M435.95 1616.9v-3.2M435.95 1185.8v3.2M446.49 1616.9v-3.2M446.49 1185.8v3.2M455.79 1616.9v-3.2M455.79 1185.8v3.2M464.10 1616.9v-5.5M464.10 1185.8v5.5M518.80 1616.9v-3.2M518.80 1185.8v3.2M550.79 1616.9v-3.2M550.79 1185.8v3.2M573.49 1616.9v-3.2M573.49 1185.8v3.2M591.10 1616.9v-3.2M591.10 1185.8v3.2M605.49 1616.9v-3.2M605.49 1185.8v3.2M617.65 1616.9v-3.2M617.65 1185.8v3.2M628.19 1616.9v-3.2M628.19 1185.8v3.2M637.49 1616.9v-3.2M637.49 1185.8v3.2M100.7 1550.34h3.2M645.8 1550.34h-3.2M100.7 1489.42h3.2M645.8 1489.42h-3.2M100.7 1446.19h3.2M645.8 1446.19h-3.2M100.7 1412.66h3.2M645.8 1412.66h-3.2M100.7 1385.26h3.2M645.8 1385.26h-3.2M100.7 1362.10h3.2M645.8 1362.10h-3.2M100.7 1342.03h3.2M645.8 1342.03h-3.2M100.7 1324.33h3.2M645.8 1324.33h-3.2M100.7 1308.50h5.5M645.8 1308.50h-5.5M100.7 1204.34h3.2M645.8 1204.34h-3.2" class="tk"/>
<path d="M100.9 1616.1 L117.5 1602.0 L135.0 1585.4 L155.2 1567.9 L160.4 1560.0 L168.3 1545.1 L178.8 1527.6 L187.6 1512.7 L196.4 1490.8 L205.1 1468.0 L214.9 1439.3 L223.7 1411.3 L233.3 1381.5 L242.0 1350.8 L251.7 1317.5 L259.6 1286.9 L269.2 1246.6 L277.1 1215.0 L282.0 1193.1 L290.2 1185.8 L291.5 1196.0 L293.1 1211.9 L296.8 1233.8 L299.0 1255.7 L300.8 1277.6 L302.6 1299.5 L303.3 1309.0 L305.6 1328.0 L307.5 1343.1 L309.4 1358.3 L311.7 1373.5 L314.0 1388.6 L317.0 1403.8 L320.4 1418.2 L329.3 1447.3 L336.3 1464.8 L345.0 1477.1 L353.8 1485.8 L362.6 1489.0 L369.6 1487.6 L378.3 1480.6 L387.1 1466.6 L395.8 1449.1 L404.6 1429.8 L408.0 1420.0 L413.9 1401.6 L419.7 1381.9 L425.5 1359.3 L431.4 1335.2 L436.5 1311.8 L440.9 1292.1 L445.3 1279.0 L449.6 1274.9 L454.0 1278.2 L458.4 1291.6 L462.0 1305.3 L465.7 1324.2 L470.1 1344.7 L474.5 1365.1 L479.6 1388.5 L484.6 1411.7 L489.0 1426.3 L494.1 1443.8 L499.9 1461.3 L506.5 1481.8 L513.1 1500.7 L520.4 1519.7 L527.7 1538.7 L535.0 1555.5 L543.0 1572.3 L550.0 1589.5" fill="none" stroke="#0B70BC" stroke-width="2.5" stroke-linejoin="round" stroke-linecap="round"/>
<path d="M100.9 1616.1 L117.5 1602.0 L135.0 1585.4 L155.2 1567.9 L160.4 1560.0 L168.3 1545.1 L178.8 1527.6 L187.6 1512.7 L196.4 1490.8 L205.1 1468.0 L210.4 1456.6 L214.9 1444.5 L223.7 1418.3 L233.3 1386.7 L242.0 1358.7 L251.7 1325.4 L259.6 1293.9 L269.2 1255.3 L277.1 1222.0 L282.0 1199.3 L285.1 1208.2 L287.3 1211.9 L289.5 1217.0 L290.6 1226.5 L291.7 1241.1 L293.1 1259.3 L295.0 1277.6 L297.2 1299.5 L299.9 1328.9 L303.4 1364.0 L306.0 1384.8 L309.4 1400.0 L313.6 1418.2 L322.3 1445.5 L329.3 1463.1 L338.0 1478.0 L346.8 1487.6 L357.3 1490.7 L367.8 1489.3 L376.6 1484.1 L385.3 1473.6 L394.1 1457.8 L402.9 1438.5 L409.5 1420.0 L414.6 1403.1 L420.4 1384.1 L426.3 1362.2 L432.1 1338.8 L437.2 1315.5 L441.6 1295.0 L446.0 1281.9 L450.4 1277.2 L454.7 1281.2 L458.4 1292.1 L462.0 1305.3 L465.7 1324.2 L470.1 1344.7 L474.5 1365.1 L479.6 1388.5 L484.6 1411.7 L489.0 1426.3 L494.1 1443.8 L499.9 1461.3 L506.5 1481.8 L513.1 1500.7 L520.4 1519.7 L527.7 1538.7 L535.0 1555.5 L543.0 1572.3 L550.0 1589.5" fill="none" stroke="#D85A1E" stroke-width="2.5" stroke-linejoin="round" stroke-linecap="round"/>
<path d="M100.7 1185.8H645.8" stroke="#5c5c5c" stroke-width="1.2" fill="none"/>
<path d="M645.8 1185.2V1617.8000000000002" stroke="#474747" stroke-width="1.5" fill="none"/>
<path d="M99.7 1616.9H646.55" stroke="#5a5a5a" stroke-width="1.8" fill="none"/>
<path d="M100.7 1185.2V1617.8000000000002" stroke="#5c5c5c" stroke-width="2.1" fill="none"/>
<rect x="432.30" y="1198.50" width="199.70" height="44.80" fill="#fff" stroke="#3c3c3c" stroke-width="1.2"/>
<line x1="437.88" y1="1211.5" x2="487.72" y2="1211.5" stroke="#0B70BC" stroke-width="2.6"/>
<line x1="437.88" y1="1231.3" x2="487.72" y2="1231.3" stroke="#D85A1E" stroke-width="2.6"/>
<text transform="matrix(0.08047 0 0 0.15806 491.98 1217.00)" style="font-family:'Liberation Serif',serif;font-size:100px" fill="#333">M</text>
<text transform="matrix(0.15161 0 0 0.15014 504.05 1216.85)" style="font-family:'Liberation Serif',serif;font-size:100px" fill="#333">a</text>
<text transform="matrix(0.12476 0 0 0.15666 513.32 1217.00)" style="font-family:'Liberation Serif',serif;font-size:100px" fill="#333">x</text>
<text transform="matrix(0.08035 0 0 0.15934 521.78 1217.00)" style="font-family:'Liberation Serif',serif;font-size:100px" fill="#333">i</text>
<text transform="matrix(0.11620 0 0 0.15333 522.42 1217.00)" style="font-family:'Liberation Serif',serif;font-size:100px" fill="#333">m</text>
<text transform="matrix(0.13173 0 0 0.15333 537.00 1216.85)" style="font-family:'Liberation Serif',serif;font-size:100px" fill="#333">u</text>
<text transform="matrix(0.10936 0 0 0.15333 544.15 1217.00)" style="font-family:'Liberation Serif',serif;font-size:100px" fill="#333">m</text>
<text transform="matrix(0.11698 0 0 0.15746 561.81 1216.96)" style="font-family:'Liberation Serif',serif;font-size:100px" fill="#333">B</text>
<text transform="matrix(0.13852 0 0 0.15014 572.07 1216.85)" style="font-family:'Liberation Serif',serif;font-size:100px" fill="#333">o</text>
<text transform="matrix(0.14037 0 0 0.15333 580.63 1216.85)" style="font-family:'Liberation Serif',serif;font-size:100px" fill="#333">u</text>
<text transform="matrix(0.14045 0 0 0.15333 588.82 1217.00)" style="font-family:'Liberation Serif',serif;font-size:100px" fill="#333">n</text>
<text transform="matrix(0.14356 0 0 0.14973 596.95 1216.85)" style="font-family:'Liberation Serif',serif;font-size:100px" fill="#333">d</text>
<text transform="matrix(0.16446 0 0 0.15014 605.20 1216.85)" style="font-family:'Liberation Serif',serif;font-size:100px" fill="#333">a</text>
<text transform="matrix(0.17638 0 0 0.15333 613.65 1217.00)" style="font-family:'Liberation Serif',serif;font-size:100px" fill="#333">r</text>
<text transform="matrix(0.12138 0 0 0.14887 619.84 1216.64)" style="font-family:'Liberation Serif',serif;font-size:100px" fill="#333">y</text>
<text transform="matrix(0.08047 0 0 0.15806 491.98 1237.40)" style="font-family:'Liberation Serif',serif;font-size:100px" fill="#333">M</text>
<text transform="matrix(0.08035 0 0 0.15934 505.54 1237.40)" style="font-family:'Liberation Serif',serif;font-size:100px" fill="#333">i</text>
<text transform="matrix(0.16240 0 0 0.15333 506.65 1237.40)" style="font-family:'Liberation Serif',serif;font-size:100px" fill="#333">n</text>
<text transform="matrix(0.08035 0 0 0.15934 517.41 1237.40)" style="font-family:'Liberation Serif',serif;font-size:100px" fill="#333">i</text>
<text transform="matrix(0.11209 0 0 0.15333 518.67 1237.40)" style="font-family:'Liberation Serif',serif;font-size:100px" fill="#333">m</text>
<text transform="matrix(0.12741 0 0 0.15333 532.64 1237.25)" style="font-family:'Liberation Serif',serif;font-size:100px" fill="#333">u</text>
<text transform="matrix(0.09842 0 0 0.15333 540.62 1237.40)" style="font-family:'Liberation Serif',serif;font-size:100px" fill="#333">m</text>
<text transform="matrix(0.11870 0 0 0.15746 558.15 1237.36)" style="font-family:'Liberation Serif',serif;font-size:100px" fill="#333">B</text>
<text transform="matrix(0.13852 0 0 0.15014 567.91 1237.25)" style="font-family:'Liberation Serif',serif;font-size:100px" fill="#333">o</text>
<text transform="matrix(0.13821 0 0 0.15333 576.58 1237.25)" style="font-family:'Liberation Serif',serif;font-size:100px" fill="#333">u</text>
<text transform="matrix(0.15362 0 0 0.15333 584.63 1237.40)" style="font-family:'Liberation Serif',serif;font-size:100px" fill="#333">n</text>
<text transform="matrix(0.14356 0 0 0.14973 592.79 1237.25)" style="font-family:'Liberation Serif',serif;font-size:100px" fill="#333">d</text>
<text transform="matrix(0.16446 0 0 0.15014 601.04 1237.25)" style="font-family:'Liberation Serif',serif;font-size:100px" fill="#333">a</text>
<text transform="matrix(0.19302 0 0 0.15333 609.55 1237.40)" style="font-family:'Liberation Serif',serif;font-size:100px" fill="#333">r</text>
<text transform="matrix(0.12138 0 0 0.14887 616.28 1237.04)" style="font-family:'Liberation Serif',serif;font-size:100px" fill="#333">y</text>
<text transform="matrix(0.14752 0 0 0.17727 85.31 1646.40)" style="font-family:'Liberation Serif',serif;font-size:100px" fill="#404040">1</text>
<text transform="matrix(0.17647 0 0 0.17333 94.54 1646.23)" style="font-family:'Liberation Serif',serif;font-size:100px" fill="#404040">0</text>
<rect x="104.50" y="1632.45" width="5.7" height="0.9" fill="#404040"/>
<text transform="matrix(0.11064 0 0 0.13788 109.43 1637.70)" style="font-family:'Liberation Serif',serif;font-size:100px" fill="#404040">1</text>
<text transform="matrix(0.14752 0 0 0.17727 269.21 1646.40)" style="font-family:'Liberation Serif',serif;font-size:100px" fill="#404040">1</text>
<text transform="matrix(0.17647 0 0 0.17333 278.44 1646.23)" style="font-family:'Liberation Serif',serif;font-size:100px" fill="#404040">0</text>
<text transform="matrix(0.14824 0 0 0.13481 287.74 1637.57)" style="font-family:'Liberation Serif',serif;font-size:100px" fill="#404040">0</text>
<text transform="matrix(0.14752 0 0 0.17727 450.91 1646.40)" style="font-family:'Liberation Serif',serif;font-size:100px" fill="#404040">1</text>
<text transform="matrix(0.17647 0 0 0.17333 460.14 1646.23)" style="font-family:'Liberation Serif',serif;font-size:100px" fill="#404040">0</text>
<text transform="matrix(0.12199 0 0 0.13788 469.53 1637.70)" style="font-family:'Liberation Serif',serif;font-size:100px" fill="#404040">1</text>
<text transform="matrix(0.14752 0 0 0.17727 632.61 1646.40)" style="font-family:'Liberation Serif',serif;font-size:100px" fill="#404040">1</text>
<text transform="matrix(0.17647 0 0 0.17333 641.84 1646.23)" style="font-family:'Liberation Serif',serif;font-size:100px" fill="#404040">0</text>
<text transform="matrix(0.15404 0 0 0.13736 651.25 1637.70)" style="font-family:'Liberation Serif',serif;font-size:100px" fill="#404040">2</text>
<text transform="matrix(0.14752 0 0 0.17424 67.41 1317.60)" style="font-family:'Liberation Serif',serif;font-size:100px" fill="#404040">1</text>
<text transform="matrix(0.17647 0 0 0.17037 76.64 1317.43)" style="font-family:'Liberation Serif',serif;font-size:100px" fill="#404040">0</text>
<text transform="matrix(0.14824 0 0 0.13481 85.94 1309.37)" style="font-family:'Liberation Serif',serif;font-size:100px" fill="#404040">0</text>
<text transform="matrix(0.18493 0 0 0.19467 309.76 1670.60)" style="font-family:'Liberation Serif',serif;font-size:100px" fill="#606060">F</text>
<text transform="matrix(0.18581 0 0 0.17441 321.33 1670.60)" style="font-family:'Liberation Serif',serif;font-size:100px" fill="#606060">r</text>
<text transform="matrix(0.19146 0 0 0.17078 327.11 1670.43)" style="font-family:'Liberation Serif',serif;font-size:100px" fill="#606060">e</text>
<text transform="matrix(0.17187 0 0 0.15929 338.00 1670.05)" style="font-family:'Liberation Serif',serif;font-size:100px" fill="#606060">q</text>
<text transform="matrix(0.15718 0 0 0.17441 349.04 1670.43)" style="font-family:'Liberation Serif',serif;font-size:100px" fill="#606060">u</text>
<text transform="matrix(0.19146 0 0 0.17078 359.09 1670.43)" style="font-family:'Liberation Serif',serif;font-size:100px" fill="#606060">e</text>
<text transform="matrix(0.15973 0 0 0.17441 369.52 1670.60)" style="font-family:'Liberation Serif',serif;font-size:100px" fill="#606060">n</text>
<text transform="matrix(0.18891 0 0 0.17078 380.10 1670.43)" style="font-family:'Liberation Serif',serif;font-size:100px" fill="#606060">c</text>
<text transform="matrix(0.19966 0 0 0.17078 389.22 1670.43)" style="font-family:'Liberation Serif',serif;font-size:100px" fill="#606060">e</text>
<text transform="matrix(0.18471 0 0 0.17508 402.69 1668.40)" style="font-family:'Liberation Serif',serif;font-size:100px" fill="#606060">(</text>
<text transform="matrix(0.12479 0 0 0.19467 406.67 1670.60)" style="font-family:'Liberation Serif',serif;font-size:100px" fill="#606060">H</text>
<text transform="matrix(0.18542 0 0 0.17820 419.16 1670.60)" style="font-family:'Liberation Serif',serif;font-size:100px" fill="#606060">z</text>
<text transform="matrix(0.19650 0 0 0.17508 428.54 1668.40)" style="font-family:'Liberation Serif',serif;font-size:100px" fill="#606060">)</text>
<text x="366.95" y="1706.4" class="cap" style="font-size:22.55px" text-anchor="middle">(c) Wheel relative dynamic load response</text>
<line x1="6.1" y1="1411.6" x2="62.8" y2="1411.6" stroke="#444" stroke-width="1.2"/>
<line x1="6.1" y1="1454.6" x2="62.8" y2="1454.6" stroke="#444" stroke-width="1.2"/>
<line x1="34.4" y1="1417.8" x2="34.4" y2="1447.9" stroke="#444" stroke-width="1.1"/>
<text transform="matrix(0 -0.24480 0.24885 0 25.00 1443.68)" style="font-family:'Liberation Serif',serif;font-style:italic;font-size:100px" fill="#2e2e2e">F</text>
<text transform="matrix(0 -0.16085 0.15177 0 27.95 1429.98)" style="font-family:'Liberation Serif',serif;font-style:italic;font-size:100px" fill="#2e2e2e">d</text>
<text transform="matrix(0 -0.25426 0.25130 0 55.95 1448.30)" style="font-family:'Liberation Serif',serif;font-style:italic;font-size:100px" fill="#2e2e2e">G</text>
<text transform="matrix(0 -0.24045 0.21685 0 56.19 1430.78)" style="font-family:'Liberation Serif',serif;font-style:italic;font-size:100px" fill="#2e2e2e">q</text>
<circle cx="41.9" cy="1422.6" r="1.3" fill="#333"/>
<text transform="matrix(0 -0.21359 0.26556 0 40.46 1401.91)" style="font-family:'Liberation Serif',serif;font-size:100px" fill="#2e2e2e">(</text>
<text transform="matrix(0 -0.26880 0.22083 0 39.68 1395.08)" style="font-family:'Liberation Serif',serif;font-size:100px" fill="#2e2e2e">s</text>
<text transform="matrix(0 -0.30270 0.34328 0 45.46 1383.80)" style="font-family:'Liberation Serif',serif;font-size:100px" fill="#2e2e2e">/</text>
<text transform="matrix(0 -0.25051 0.22553 0 39.90 1372.60)" style="font-family:'Liberation Serif',serif;font-size:100px" fill="#2e2e2e">m</text>
<text transform="matrix(0 -0.18641 0.26556 0 40.46 1352.31)" style="font-family:'Liberation Serif',serif;font-size:100px" fill="#2e2e2e">)</text>
</svg>
</body></html>
